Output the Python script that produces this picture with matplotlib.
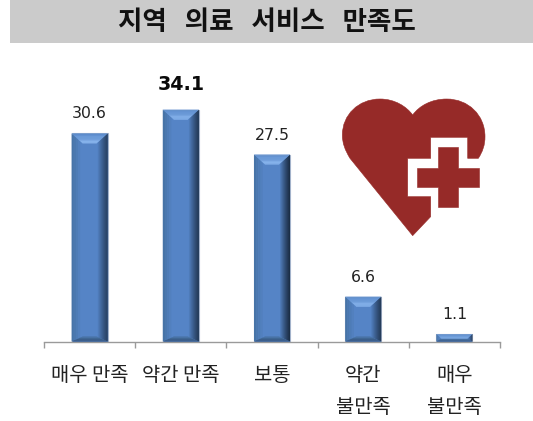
import matplotlib
matplotlib.use("Agg")
import matplotlib.pyplot as plt
from matplotlib.patches import Rectangle, PathPatch
from matplotlib.path import Path
from matplotlib.transforms import Affine2D
from matplotlib.colors import to_rgb
import numpy as np

plt.rcParams['font.family'] = ['Noto Sans CJK KR', 'DejaVu Sans']

categories = ['매우 만족', '약간 만족', '보통', '약간\n불만족', '매우\n불만족']
values = [30.6, 34.1, 27.5, 6.6, 1.1]
value_labels = ['30.6', '34.1', '27.5', '6.6', '1.1']
title = '지역   의료   서비스   만족도'

W, H = 533, 421
fig = plt.figure(figsize=(W / 100, H / 100), dpi=100, facecolor='white')
px = Affine2D().scale(1, -1).translate(0, H)  # top-left pixel coordinates

fig.patches.append(Rectangle((10, 0), W - 10, 43, transform=px, facecolor='#CBCBCB', edgecolor='none'))
fig.text(266.5 / W, 1 - 23 / H, title, ha='center', va='center', fontsize=19.1, fontweight='bold', color='#111111')

x0, x1, yb, yt = 44, 500, 341.5, 60
ax = fig.add_axes([x0 / W, 1 - yb / H, (x1 - x0) / W, (yb - yt) / H])
ax.set_xlim(-0.5, 4.5)
ax.set_ylim(0, (yb - yt) / 6.8)
ax.patch.set_visible(False)
for s in ['top', 'left', 'right']:
    ax.spines[s].set_visible(False)
ax.spines['bottom'].set_color('#9A9A9A')
ax.spines['bottom'].set_linewidth(1)
ax.yaxis.set_visible(False)

xs = np.arange(len(values))
bw = 0.395
bars = ax.bar(xs, values, width=bw, color='#5584C6', edgecolor='#A4B4CC', linewidth=0.8, zorder=2)


def mix(a, b, t):
    a, b = np.array(to_rgb(a)), np.array(to_rgb(b))
    return tuple(a + (b - a) * t)


bevel_x = 11 / 91.2
for bar in bars:
    l, w, h = bar.get_x(), bar.get_width(), bar.get_height()
    r = l + w
    by = min(10 / 6.8, h * 0.6)
    lx = bevel_x * by / (10 / 6.8)
    bb = min(5 / 6.8, h * 0.4)
    # left side
    n = 5
    for i in range(n):
        t0, t1 = i / n, (i + 1) / n
        ax.fill([l + lx * t0, l + lx * t1, l + lx * t1, l + lx * t0],
                [bb * t0, bb * t1, h - by * t1, h - by * t0],
                color=mix('#44709F', '#5584C6', t1), lw=0, zorder=3)
    # right side gradient
    n = 11
    for i in range(n):
        t0, t1 = i / n, (i + 1) / n
        ax.fill([r - lx * t0, r - lx * t1, r - lx * t1, r - lx * t0],
                [bb * t0, bb * t1, h - by * t1, h - by * t0],
                color=mix('#18293E', '#5584C6', t1 ** 1.2), lw=0, zorder=3)
    # bottom
    n = 4
    for i in range(n):
        t0, t1 = i / n, (i + 1) / n
        ax.fill([l + lx * t0, r - lx * t0, r - lx * t1, l + lx * t1],
                [bb * t0, bb * t0, bb * t1, bb * t1],
                color=mix('#2F4C74', '#46709F', t1), lw=0, zorder=3)
    # top trapezoid bands
    n = 8
    for i in range(n):
        t0, t1 = i / n, (i + 1) / n
        ax.fill([l + lx * t0, r - lx * t0, r - lx * t1, l + lx * t1],
                [h - by * t0, h - by * t0, h - by * t1, h - by * t1],
                color=mix('#5687C8', '#8CB8F0', t1), lw=0, zorder=3)

for i, (v, s) in enumerate(zip(values, value_labels)):
    bold = i == 1
    ax.annotate(s, (xs[i], v), xytext=(0, 20 if bold else 15), textcoords='offset pixels',
                ha='center', va='baseline', fontsize=13.7 if bold else 11.3,
                fontweight='bold' if bold else 'normal', color='#0A0A0A' if bold else '#222222',
                family='DejaVu Sans', zorder=4)

ax.set_xticks(np.arange(-0.5, 5, 1))
ax.set_xticklabels([])
ax.tick_params(axis='x', which='major', length=4, width=1, color='#9A9A9A', direction='out')
ax.set_xticks(xs, minor=True)
ax.set_xticklabels(categories, minor=True, fontsize=14.3, color='#222222', linespacing=1.7, va='top')
ax.tick_params(axis='x', which='minor', length=0, pad=17)

M, L, C, Z = Path.MOVETO, Path.LINETO, Path.CURVE4, Path.CLOSEPOLY
heart = [
    ((248, 437), M), ((60, 205), L),
    ((45, 180), C), ((37, 160), C), ((37, 135), C),
    ((37, 75), C), ((85, 27), C), ((150, 27), C),
    ((195, 27), C), ((230, 50), C), ((248, 75), C),
    ((268, 47), C), ((305, 27), C), ((350, 27), C),
    ((415, 27), C), ((465, 75), C), ((465, 140), C),
    ((465, 165), C), ((458, 185), C), ((445, 205), C),
    ((413, 205), L), ((413, 142), L), ((302, 142), L), ((302, 205), L), ((233, 205), L),
    ((233, 320), L), ((302, 320), L), ((302, 380), L), ((248, 437), L), ((248, 437), Z),
]
cross = [(325, 172), (385, 172), (385, 233), (447, 233), (447, 290), (385, 290), (385, 352), (325, 352),
         (325, 290), (262, 290), (262, 233), (325, 233), (325, 172)]
heart_tf = Affine2D().scale(1 / 3).translate(330, 90) + px
heart_path = Path([p for p, _ in heart], [c for _, c in heart])
for path in (heart_path, Path(cross, closed=True)):
    fig.patches.append(PathPatch(path, transform=heart_tf, facecolor='#962A28',
                                 edgecolor='#962A28', linewidth=0.4))

fig.savefig('out.png', dpi=100)
